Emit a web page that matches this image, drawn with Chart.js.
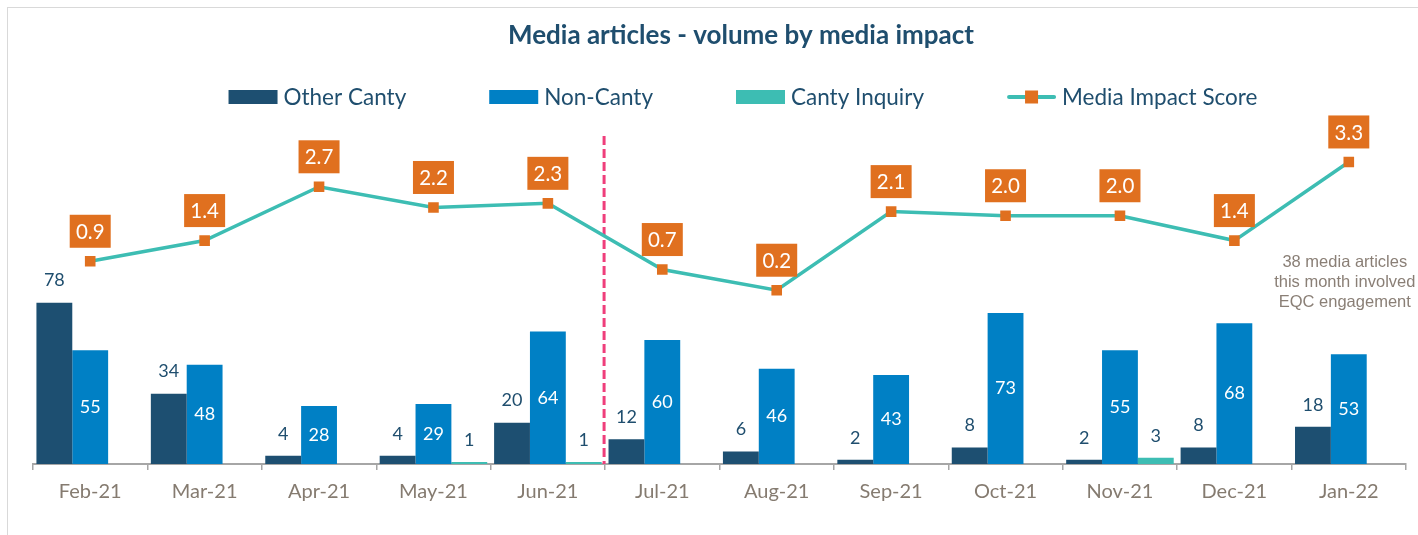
<!DOCTYPE html>
<html>
<head>
<meta charset="utf-8">
<title>Media articles - volume by media impact</title>
<script src="https://cdn.jsdelivr.net/npm/chart.js@4.4.1/dist/chart.umd.min.js"></script>
<style>
  html, body { margin: 0; padding: 0; background: #fff; }
  #wrap { position: relative; width: 1418px; height: 535px; overflow: hidden; }
  #frame { position: absolute; left: 7px; top: 7px; width: 1460px; height: 580px; border: 1px solid #d9d9d9; }
  #chart { position: absolute; left: 0; top: 0; }
</style>
</head>
<body>
<div id="wrap">
  <div id="frame"></div>
  <canvas id="chart" width="1418" height="535"></canvas>
</div>
<script>
// month labels + the four series
const months = ['Feb-21', 'Mar-21', 'Apr-21', 'May-21', 'Jun-21', 'Jul-21', 'Aug-21', 'Sep-21', 'Oct-21', 'Nov-21', 'Dec-21', 'Jan-22'];
const otherCanty = [78, 34, 4, 4, 20, 12, 6, 2, 8, 2, 8, 18];
const nonCanty = [55, 48, 28, 29, 64, 60, 46, 43, 73, 55, 68, 53];
const cantyInquiry = [0, 0, 0, 1, 1, 0, 0, 0, 0, 3, 0, 0];
const impactScore = [0.9, 1.4, 2.7, 2.2, 2.3, 0.7, 0.2, 2.1, 2.0, 2.0, 1.4, 3.3];
const noteLines = ['38 media articles', 'this month involved', 'EQC engagement'];

const NAVY = '#1D4F71';
const BLUE = '#0080C5';
const TEAL = '#3DBDB3';
const ORANGE = '#E0701F';
const TEXT_BLUE = '#1F4E6E';
const AXIS_TEXT = '#857B70';
const FONT = 'Lato, "Open Sans", sans-serif';

// labels, title, legend and the split marker
const decorations = {
    id: 'decorations',
    beforeDatasetsDraw(chart) {
        const { ctx, chartArea } = chart;
        const x = chart.scales.x;
        const splitX = (x.getPixelForValue(4) + x.getPixelForValue(5)) / 2 - 1;
        ctx.save();
        ctx.strokeStyle = '#EF3E7B';
        ctx.lineWidth = 3;
        ctx.setLineDash([9, 4]);
        ctx.beginPath();
        ctx.moveTo(splitX, chartArea.top + 3);
        ctx.lineTo(splitX, chartArea.bottom);
        ctx.stroke();
        ctx.restore();
    },
    afterDatasetsDraw(chart) {
        const ctx = chart.ctx;
        ctx.save();
        ctx.textAlign = 'center';
        ctx.textBaseline = 'middle';
        ctx.font = '18px ' + FONT;

        // bar values
        [0, 1, 2].forEach(di => {
            const ds = chart.data.datasets[di];
            chart.getDatasetMeta(di).data.forEach((bar, i) => {
                const v = ds.data[i];
                if (!v) return;
                if (di === 1) {
                    ctx.fillStyle = '#ffffff';
                    ctx.fillText(v, bar.x, (bar.y + bar.base) / 2);
                } else {
                    ctx.fillStyle = TEXT_BLUE;
                    ctx.fillText(v, bar.x, bar.y - 22);
                }
            });
        });

        // score boxes above the line points
        ctx.font = '20.5px ' + FONT;
        chart.getDatasetMeta(3).data.forEach((pt, i) => {
            const cy = pt.y - 30;
            ctx.fillStyle = ORANGE;
            ctx.fillRect(pt.x - 20.5, cy - 16.5, 41, 33);
            ctx.fillStyle = '#ffffff';
            ctx.fillText(impactScore[i].toFixed(1), pt.x, cy + 1);
        });
        ctx.restore();
    },
    afterDraw(chart) {
        const ctx = chart.ctx;
        const cx = 741;
        ctx.save();
        ctx.textBaseline = 'middle';

        // title
        ctx.textAlign = 'center';
        ctx.fillStyle = TEXT_BLUE;
        ctx.font = 'bold 26px ' + FONT;
        ctx.fillText('Media articles - volume by media impact', cx, 36);

        // legend
        ctx.font = '22.5px ' + FONT;
        ctx.textAlign = 'left';
        const boxW = 49, gap = 6, spacing = 83, ly = 97;
        const items = chart.data.datasets.map(d => d.label);
        const widths = items.map(t => boxW + gap + ctx.measureText(t).width);
        const total = widths.reduce((a, b) => a + b, 0) + spacing * (items.length - 1);
        let lx = cx + 2 - total / 2;
        chart.data.datasets.forEach((d, i) => {
            if (d.type === 'line') {
                ctx.strokeStyle = TEAL;
                ctx.lineWidth = 4;
                ctx.lineCap = 'round';
                ctx.beginPath();
                ctx.moveTo(lx + 2, ly);
                ctx.lineTo(lx + boxW - 2, ly);
                ctx.stroke();
                ctx.fillStyle = ORANGE;
                ctx.fillRect(lx + boxW / 2 - 6.5, ly - 6.5, 13, 13);
            } else {
                ctx.fillStyle = d.backgroundColor;
                ctx.fillRect(lx, ly - 7, boxW, 14);
            }
            ctx.fillStyle = TEXT_BLUE;
            ctx.fillText(d.label, lx + boxW + gap, ly + 1);
            lx += widths[i] + spacing;
        });

        // note beside the last month
        const nx = chart.scales.x.getPixelForValue(11) - 4;
        ctx.textAlign = 'center';
        ctx.fillStyle = '#8A7F76';
        ctx.font = '16.5px "Liberation Sans", Arial, sans-serif';
        noteLines.forEach((t, i) => ctx.fillText(t, nx, 262 + i * 20));
        ctx.restore();
    }
};

const chart = new Chart(document.getElementById('chart'), {
    data: {
        labels: months,
        datasets: [
            { type: 'bar', label: 'Other Canty', data: otherCanty, backgroundColor: NAVY, yAxisID: 'y', order: 1 },
            { type: 'bar', label: 'Non-Canty', data: nonCanty, backgroundColor: BLUE, yAxisID: 'y', order: 1 },
            { type: 'bar', label: 'Canty Inquiry', data: cantyInquiry, backgroundColor: TEAL, yAxisID: 'y', order: 1 },
            {
                type: 'line', label: 'Media Impact Score', data: impactScore, yAxisID: 'y1', order: 0,
                borderColor: TEAL, borderWidth: 3.5, tension: 0,
                pointStyle: 'rect', pointRadius: 7.5, pointBackgroundColor: ORANGE, pointBorderWidth: 0,
                pointHoverRadius: 7.5
            }
        ]
    },
    options: {
        responsive: false,
        animation: false,
        devicePixelRatio: 1,
        layout: { padding: { top: 133, left: 33, right: 12, bottom: 0 } },
        datasets: { bar: { barPercentage: 1, categoryPercentage: 0.94 } },
        plugins: {
            legend: { display: false },
            title: { display: false },
            tooltip: { enabled: false }
        },
        scales: {
            x: {
                offset: true,
                afterFit: s => { s.height = 71; },
                grid: { offset: true, drawOnChartArea: false, drawTicks: true, tickLength: 6, color: '#A6A6A6', lineWidth: 1.5 },
                border: { display: true, color: '#A6A6A6', width: 2 },
                ticks: { color: AXIS_TEXT, font: { family: FONT, size: 20 }, padding: 10, maxRotation: 0 }
            },
            y: { display: false, min: 0, max: 160 },
            y1: { display: false, min: -4, max: 4 }
        }
    },
    plugins: [decorations]
});
</script>
</body>
</html>
